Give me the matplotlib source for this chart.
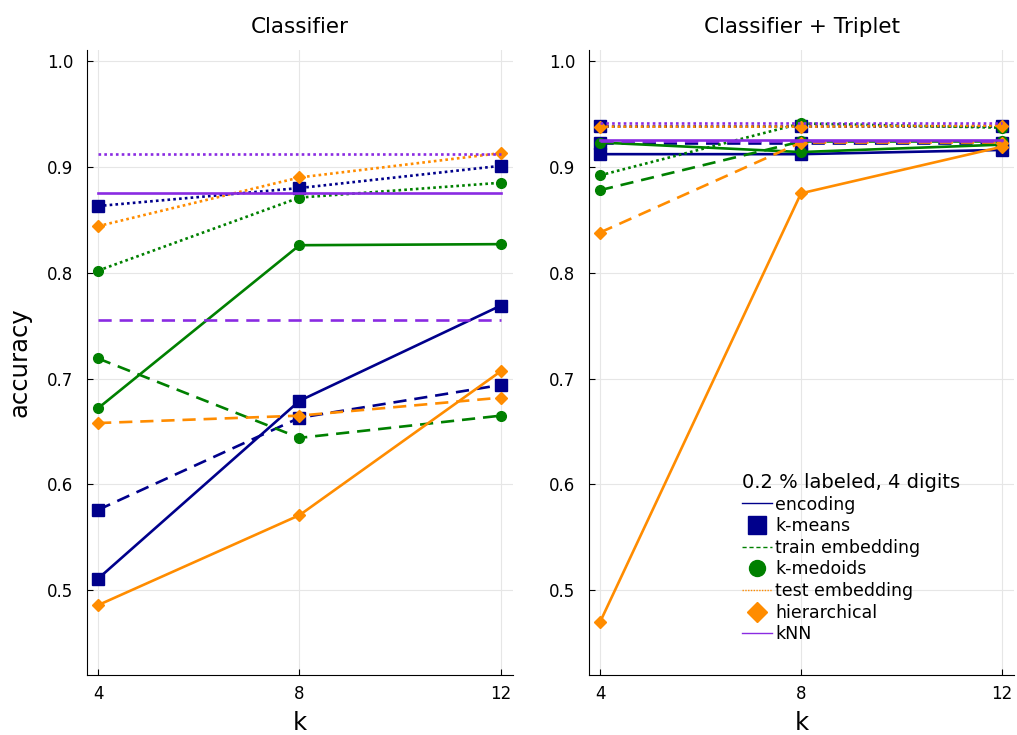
import matplotlib
matplotlib.use("Agg")
from matplotlib import pyplot as plt
from matplotlib.lines import Line2D

plt.rcParams['font.family'] = ['DejaVu Sans']

k = [4, 8, 12]
embeddings = ["encoding", "train embedding", "test embedding"]
methods = ["k-means", "k-medoids", "hierarchical"]

# classifier only
clf_kmeans = [[0.511, 0.679, 0.769], [0.576, 0.663, 0.694], [0.863, 0.880, 0.901]]
clf_kmedoids = [[0.672, 0.826, 0.827], [0.719, 0.644, 0.665], [0.802, 0.871, 0.885]]
clf_hier = [[0.486, 0.571, 0.707], [0.658, 0.665, 0.682], [0.844, 0.890, 0.913]]
clf_knn = [0.875, 0.755, 0.912]

# classifier + triplet
trip_kmeans = [[0.912, 0.912, 0.916], [0.923, 0.923, 0.923], [0.939, 0.939, 0.939]]
trip_kmedoids = [[0.923, 0.914, 0.921], [0.878, 0.924, 0.924], [0.892, 0.941, 0.937]]
trip_hier = [[0.470, 0.875, 0.919], [0.838, 0.923, 0.923], [0.938, 0.938, 0.939]]
trip_knn = [0.925, 0.924, 0.941]

COLORS = {"k-means": "#00008B", "k-medoids": "#008000", "hierarchical": "#FF8C00"}
MARKERS = {"k-means": ("s", 8.5), "k-medoids": ("o", 7), "hierarchical": ("D", 6)}
STYLES = {"encoding": "-", "train embedding": (0, (5, 3)), "test embedding": (0, (1, 1.2))}
KNN_COLOR = "#8A2BE2"


def draw(ax, title, data, knn):
    for m, rows in zip(methods, data):
        for e, vals in zip(embeddings, rows):
            mk, ms = MARKERS[m]
            ax.plot(k, vals, color=COLORS[m], linestyle=STYLES[e], linewidth=1.9,
                    marker=mk, markersize=ms, zorder=3)
    for e, v in zip(embeddings, knn):
        ax.plot([k[0], k[-1]], [v, v], color=KNN_COLOR, linestyle=STYLES[e],
                linewidth=1.9, zorder=3)
    ax.set_title(title, fontsize=15.5, pad=12)
    ax.set_xlim(3.78, 12.24)
    ax.set_ylim(0.42, 1.0104)
    ax.set_xticks(k)
    ax.set_yticks([0.5, 0.6, 0.7, 0.8, 0.9, 1.0])
    ax.set_yticklabels(["0.5", "0.6", "0.7", "0.8", "0.9", "1.0"])
    ax.grid(True, color="#e6e6e6", linewidth=0.8)
    ax.set_axisbelow(True)
    for s in ["top", "right"]:
        ax.spines[s].set_visible(False)
    ax.tick_params(direction="in", labelsize=12, length=4)
    ax.tick_params(axis="y", pad=10)
    ax.tick_params(axis="x", pad=7)
    ax.set_xlabel("k", fontsize=17.5, labelpad=6)


fig = plt.figure(figsize=(10.17, 7.35), dpi=100)
ax1 = fig.add_axes([87 / 1017, 60 / 735, 426 / 1017, 625 / 735])
ax2 = fig.add_axes([589 / 1017, 60 / 735, 425 / 1017, 625 / 735])

draw(ax1, "Classifier", [clf_kmeans, clf_kmedoids, clf_hier], clf_knn)
draw(ax2, "Classifier + Triplet", [trip_kmeans, trip_kmedoids, trip_hier], trip_knn)
ax1.set_ylabel("accuracy", fontsize=17.5, labelpad=11)

handles = [
    Line2D([], [], color=COLORS["k-means"], linestyle="-", linewidth=1),
    Line2D([], [], color=COLORS["k-means"], linestyle="none", marker="s", markersize=13.5),
    Line2D([], [], color=COLORS["k-medoids"], linestyle=(0, (3, 2)), linewidth=1),
    Line2D([], [], color=COLORS["k-medoids"], linestyle="none", marker="o", markersize=11.5),
    Line2D([], [], color=COLORS["hierarchical"], linestyle=(0, (1, 1)), linewidth=1),
    Line2D([], [], color=COLORS["hierarchical"], linestyle="none", marker="D", markersize=10),
    Line2D([], [], color=KNN_COLOR, linestyle="-", linewidth=1),
]
labels = ["encoding", "k-means", "train embedding", "k-medoids", "test embedding",
          "hierarchical", "kNN"]
leg = ax2.legend(handles, labels, title="0.2 % labeled, 4 digits", loc="lower left",
                 bbox_to_anchor=(0.352, 0.045), frameon=False, fontsize=12.5,
                 title_fontsize=14, handlelength=1.7, handletextpad=0.2,
                 labelspacing=0.21, borderpad=0.2, borderaxespad=0)
leg._legend_box.align = "left"

plt.savefig("out.png")
